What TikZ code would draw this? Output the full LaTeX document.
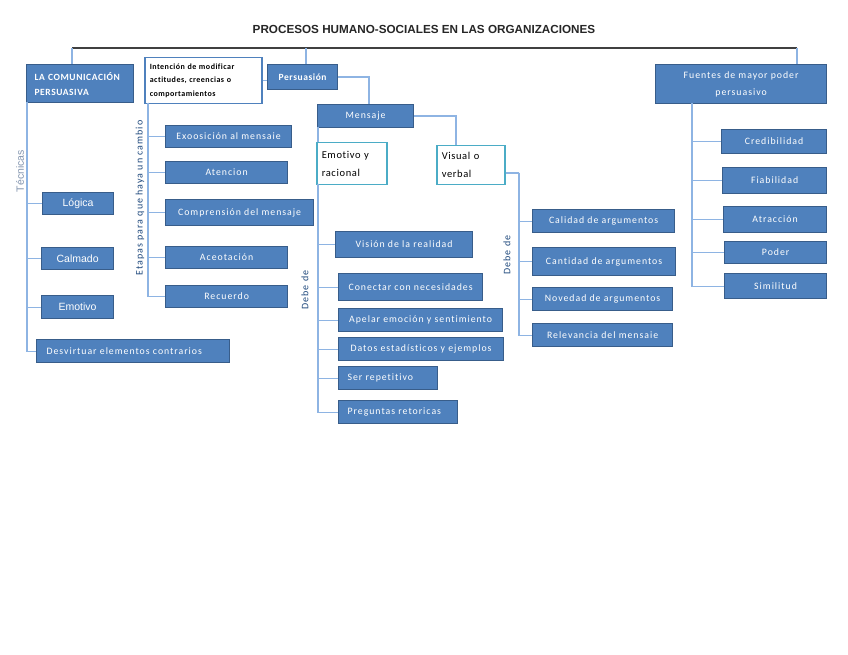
\documentclass[tikz,border=0pt]{standalone}
\usepackage{fontspec}
\setmainfont[Ligatures=NoCommon]{Carlito}
\newfontfamily\arialf{Liberation Sans}
\newfontfamily\calsp[LetterSpace=10,Ligatures=NoCommon]{Carlito}
\newfontfamily\calspb[LetterSpace=6,Ligatures=NoCommon]{Carlito}
\definecolor{boxfill}{HTML}{4F81BD}
\definecolor{boxedge}{HTML}{385D8A}
\definecolor{linec}{HTML}{8EB4E3}
\definecolor{cyanedge}{HTML}{4BACC6}
\definecolor{labblue}{HTML}{1F497D}
\definecolor{labgray}{HTML}{8496B0}
\tikzset{
  box/.style={draw=boxedge, line width=1.2pt, fill=boxfill, text=white, inner sep=0pt, anchor=north west, font=\calsp\fontsize{9.8}{11}\selectfont, align=center},
  boxb/.style={box, font=\calspb\bfseries\fontsize{9.5}{15}\selectfont},
  boxa/.style={box, font=\arialf\fontsize{10.5}{12}\selectfont},
  wbox/.style={draw=boxfill, line width=1.5pt, fill=white, text=black, inner sep=4pt, anchor=north west, align=left},
  cbox/.style={draw=cyanedge, line width=1.5pt, fill=white, text=black, inner sep=5pt, anchor=north west, align=left, font=\calspb\fontsize{10.5}{18}\selectfont},
  conn/.style={draw=linec, line width=1.2pt},
  topl/.style={draw=black!75, line width=1.1pt},
  vlab/.style={rotate=90, inner sep=0pt, font=\calsp\fontsize{10}{12}\selectfont, text=labblue}
}
\begin{document}
\begin{tikzpicture}[x=1pt,y=-1pt]
\useasboundingbox (0,0) rectangle (848,655);
\fill[white] (0,0) rectangle (848,655);
\node[font=\arialf\bfseries\fontsize{11.7}{14}\selectfont, text=black!85] (title) at (424,29) {PROCESOS HUMANO-SOCIALES EN LAS ORGANIZACIONES};

% top row boxes
\node[boxb, minimum width=107pt, minimum height=38pt, text width=91pt, align=left] (comm) at (26,64) {LA COMUNICACIÓN\\PERSUASIVA};
\node[wbox, minimum width=117pt, minimum height=46pt, text width=107pt, font=\calspb\bfseries\fontsize{8}{13.5}\selectfont] (inten) at (144,57) {Intención de modificar\\actitudes, creencias o\\comportamientos};
\node[boxb, minimum width=70pt, minimum height=25pt] (pers) at (267,64) {Persuasión};
\node[box, minimum width=171pt, minimum height=39pt, font=\calsp\fontsize{9.8}{17}\selectfont] (fuen) at (655,64) {Fuentes de mayor poder\\persuasivo};
\node[box, minimum width=96pt, minimum height=23pt] (mens) at (317,104) {Mensaje};
\node[cbox, minimum width=70pt, minimum height=42pt, text width=60pt] (emo) at (316,142) {Emotivo y\\racional};
\node[cbox, minimum width=68pt, minimum height=39pt, text width=58pt] (vis) at (436,145) {Visual o\\verbal};

% top line
\coordinate (t1) at (72,48);
\coordinate (t2) at (797,48);
\coordinate (t3) at (306,48);
\draw[topl] (t1) -- (t2);
\draw[conn] (t1) -- (t1 |- comm.north);
\draw[conn] (t3) -- (t3 |- pers.north);
\draw[conn] (t2) -- (t2 |- fuen.north);
\draw[conn] (inten.east) -- (inten.east -| pers.west);
\coordinate (pm) at (369,104);
\draw[conn] (pers.east) -| (pm);
\coordinate (m1) at (318,127);
\draw[conn] (m1) -- (m1 |- emo.north);
\coordinate (mv) at (456,145);
\draw[conn] (mens.east) -| (mv);

% Tecnicas
\node[boxa, minimum width=71pt, minimum height=22pt] (log) at (42,192) {Lógica};
\node[boxa, minimum width=72pt, minimum height=22pt] (cal) at (41,247) {Calmado};
\node[boxa, minimum width=72pt, minimum height=23pt] (emt) at (41,295) {Emotivo};
\node[box, minimum width=193pt, minimum height=23pt, text width=173pt, align=left] (desv) at (36,339) {Desvirtuar elementos contrarios};
\coordinate (c0) at (27,102);
\foreach \n in {log,cal,emt,desv} \draw[conn] (c0) |- (\n.west);
\node[vlab, font=\arialf\fontsize{10.5}{12}\selectfont, text=labgray] (tec) at (20,171) {Técnicas};

% Etapas
\node[box, minimum width=126pt, minimum height=22pt] (expo) at (165,125) {Exoosición al mensaie};
\node[box, minimum width=122pt, minimum height=22pt] (aten) at (165,161) {Atencion};
\node[box, minimum width=148pt, minimum height=26pt] (comp) at (165,199) {Comprensión del mensaje};
\node[box, minimum width=122pt, minimum height=22pt] (acep) at (165,246) {Aceotación};
\node[box, minimum width=122pt, minimum height=22pt] (recu) at (165,285) {Recuerdo};
\coordinate (i0) at (148,103);
\foreach \n in {expo,aten,comp,acep,recu} \draw[conn] (i0) |- (\n.west);
\node[vlab] (etap) at (140,198) {Etapas para que haya un cambio};

% Emotivo y racional
\node[box, minimum width=137pt, minimum height=26pt] (vision) at (335,231) {Visión de la realidad};
\node[box, minimum width=144pt, minimum height=27pt] (conec) at (338,273) {Conectar con necesidades};
\node[box, minimum width=164pt, minimum height=23pt] (apel) at (338,308) {Apelar emoción y sentimiento};
\node[box, minimum width=165pt, minimum height=23pt] (datos) at (338,337) {Datos estadísticos y ejemplos};
\node[box, minimum width=99pt, minimum height=23pt, text width=81pt, align=left] (ser) at (338,366) {Ser repetitivo};
\node[box, minimum width=119pt, minimum height=23pt, text width=101pt, align=left] (preg) at (338,400) {Preguntas retoricas};
\coordinate (e0) at (318,184);
\foreach \n in {vision,conec,apel,datos,ser,preg} \draw[conn] (e0) |- (\n.west);
\node[vlab] (deb1) at (305,290) {Debe de};

% Visual o verbal
\node[box, minimum width=142pt, minimum height=23pt] (cali) at (532,209) {Calidad de argumentos};
\node[box, minimum width=143pt, minimum height=28pt] (cant) at (532,247) {Cantidad de argumentos};
\node[box, minimum width=140pt, minimum height=23pt] (nove) at (532,287) {Novedad de argumentos};
\node[box, minimum width=140pt, minimum height=23pt] (rele) at (532,323) {Relevancia del mensaie};
\coordinate (v0) at (519,173);
\draw[conn] (v0 -| vis.east) -- (v0);
\foreach \n in {cali,cant,nove,rele} \draw[conn] (v0) |- (\n.west);
\node[vlab] (deb2) at (507,255) {Debe de};

% Fuentes
\node[box, minimum width=105pt, minimum height=24pt] (cred) at (721,129) {Credibilidad};
\node[box, minimum width=104pt, minimum height=26pt] (fiab) at (722,167) {Fiabilidad};
\node[box, minimum width=103pt, minimum height=26pt] (atra) at (723,206) {Atracción};
\node[box, minimum width=102pt, minimum height=22pt] (pode) at (724,241) {Poder};
\node[box, minimum width=102pt, minimum height=25pt] (simi) at (724,273) {Similitud};
\coordinate (f0) at (692,103);
\foreach \n in {cred,fiab,atra,pode,simi} \draw[conn] (f0) |- (\n.west);
\end{tikzpicture}
\end{document}
